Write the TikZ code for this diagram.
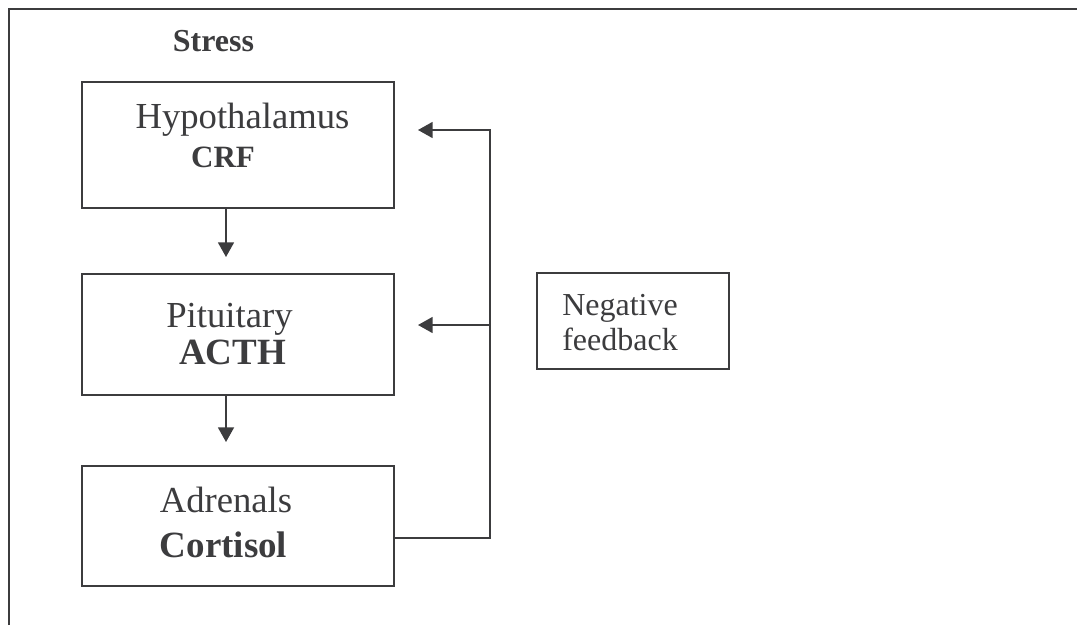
\documentclass[tikz,border=0pt]{standalone}
\usepackage{fontspec}
\setmainfont{Liberation Serif}
\usepackage{xcolor}
\usetikzlibrary{arrows.meta}
\definecolor{ink}{RGB}{60,60,62}

\tikzset{
  organ/.style={draw, minimum width=234pt},
  organname/.style={anchor=base, font=\fontsize{27.5}{30}\selectfont},
  hormone/.style={anchor=base, font=\bfseries\fontsize{27.75}{30}\selectfont},
  feed/.style={-{Triangle[length=11pt,width=12pt]}}
}

\begin{document}
\begin{tikzpicture}[x=0.75pt,y=-0.75pt,line width=1.3pt,color=ink]
\useasboundingbox (0,0) rectangle (1077,625);
\draw (9,625) -- (9,9) -- (1077,9);

\node[anchor=base, font=\bfseries\fontsize{24}{26}\selectfont] (stress) at (213.5,51) {Stress};

\node[organ, minimum height=94.5pt] (hyp) at (238,145) {};
\node[organ, minimum height=90.75pt] (pit) at (238,334.5) {};
\node[organ, minimum height=90pt] (adr) at (238,526) {};
\node[draw, minimum width=144pt, minimum height=72pt] (neg) at (633,321) {};

\node[organname] (hyptxt) at (242.5,128) {Hypothalamus};
\node[hormone, font=\bfseries\fontsize{23.25}{26}\selectfont] (crf) at (223,167) {CRF};
\node[organname] (pittxt) at (229.5,327) {Pituitary};
\node[hormone] (acth) at (232.5,364) {ACTH};
\node[organname] (adrtxt) at (226,512) {Adrenals};
\node[hormone] (cort) at (223.5,557) {Cortisol};
\node[anchor=base west, font=\fontsize{24}{26}\selectfont] (negtxt) at (557,315) {Negative};
\node[anchor=base west, font=\fontsize{24}{26}\selectfont] (fbtxt) at (557,350) {feedback};

\coordinate (tip1) at (226,257);
\coordinate (tip2) at (226,442);
\coordinate (loop) at (490,130);
\coordinate (top) at (418,130);
\coordinate (mid) at (418,325);

\draw[feed] (hyp.south -| tip1) -- (tip1);
\draw[feed] (pit.south -| tip2) -- (tip2);
\draw[feed] ([yshift=-9pt]adr.east) -| (loop) -- (top);
\draw[feed] (loop |- mid) -- (mid);
\end{tikzpicture}
\end{document}
